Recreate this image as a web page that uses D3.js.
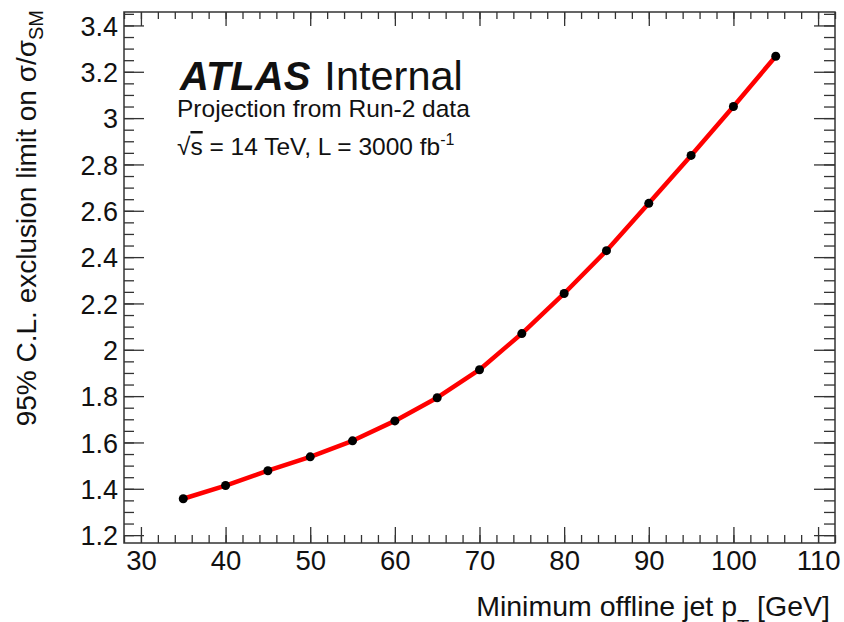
<!DOCTYPE html>
<html>
<head>
<meta charset="utf-8">
<script src="https://cdn.jsdelivr.net/npm/d3@7"></script>
<style>
  html, body { margin: 0; padding: 0; background: #fff; }
  svg text { font-family: "Liberation Sans", Arial, Helvetica, sans-serif; fill: #111; }
</style>
</head>
<body>
<svg id="chart" width="844" height="622"></svg>
<script>
// Minimum offline jet pT thresholds [GeV]
const ptCut = [35, 40, 45, 50, 55, 60, 65, 70, 75, 80, 85, 90, 95, 100, 105];
// Expected 95% C.L. exclusion limit on sigma/sigma_SM
const limit = [1.357, 1.414, 1.478, 1.538, 1.607, 1.693, 1.793, 1.914, 2.070, 2.243, 2.428, 2.632, 2.839, 3.050, 3.267];

const xMajorTicks = [30, 40, 50, 60, 70, 80, 90, 100, 110];
const yMajorTicks = [1.2, 1.4, 1.6, 1.8, 2.0, 2.2, 2.4, 2.6, 2.8, 3.0, 3.2, 3.4];

const frame = { left: 124, right: 835, top: 12, bottom: 543 };

// ROOT-style 10% margins around the data range
const xMin = d3.min(ptCut), xMax = d3.max(ptCut);
const yMin = d3.min(limit), yMax = d3.max(limit);
const xPad = 0.1 * (xMax - xMin), yPad = 0.1 * (yMax - yMin);

const x = d3.scaleLinear().domain([xMin - xPad, xMax + xPad]).range([frame.left, frame.right]);
const y = d3.scaleLinear().domain([yMin - yPad, yMax + yPad]).range([frame.bottom, frame.top]);

const xMinorTicks = d3.range(Math.ceil(x.domain()[0] / 2) * 2, x.domain()[1] + 1e-9, 2);
const yMinorTicks = d3.range(Math.ceil(y.domain()[0] / 0.05) * 0.05, y.domain()[1] + 1e-9, 0.05)
  .map(v => +v.toFixed(3));

const svg = d3.select("#chart");
const W = frame.right - frame.left, H = frame.bottom - frame.top;
const axisColor = "#333";

function styleAxis(g) {
  g.select(".domain").remove();
  g.selectAll(".tick line").attr("stroke", axisColor).attr("stroke-width", 1.3);
}

// Bottom axis: labels + inward ticks
svg.append("g").attr("transform", `translate(0,${frame.bottom})`)
  .call(d3.axisBottom(x).tickValues(xMinorTicks).tickSize(-8).tickFormat(""))
  .call(styleAxis);
svg.append("g").attr("transform", `translate(0,${frame.bottom})`)
  .call(d3.axisBottom(x).tickValues(xMajorTicks).tickSize(-16).tickFormat(d3.format("d")))
  .call(styleAxis)
  .call(g => g.selectAll(".tick text").attr("y", 7).attr("dy", "0")
    .attr("font-size", 27.5).attr("text-anchor", "middle").attr("dominant-baseline", "hanging"));

// Top axis: ticks only
svg.append("g").attr("transform", `translate(0,${frame.top})`)
  .call(d3.axisTop(x).tickValues(xMinorTicks).tickSize(-7).tickFormat(""))
  .call(styleAxis);
svg.append("g").attr("transform", `translate(0,${frame.top})`)
  .call(d3.axisTop(x).tickValues(xMajorTicks).tickSize(-14).tickFormat(""))
  .call(styleAxis);

// Left axis: labels + inward ticks
svg.append("g").attr("transform", `translate(${frame.left},0)`)
  .call(d3.axisLeft(y).tickValues(yMinorTicks).tickSize(-10).tickFormat(""))
  .call(styleAxis);
svg.append("g").attr("transform", `translate(${frame.left},0)`)
  .call(d3.axisLeft(y).tickValues(yMajorTicks).tickSize(-20).tickFormat(d3.format("~g")))
  .call(styleAxis)
  .call(g => g.selectAll(".tick text").attr("x", -6).attr("dy", "0.36em")
    .attr("font-size", 27).attr("text-anchor", "end"));

// Right axis: ticks only
svg.append("g").attr("transform", `translate(${frame.right},0)`)
  .call(d3.axisRight(y).tickValues(yMinorTicks).tickSize(-11).tickFormat(""))
  .call(styleAxis);
svg.append("g").attr("transform", `translate(${frame.right},0)`)
  .call(d3.axisRight(y).tickValues(yMajorTicks).tickSize(-21).tickFormat(""))
  .call(styleAxis);

// Frame
svg.append("rect")
  .attr("x", frame.left).attr("y", frame.top).attr("width", W).attr("height", H)
  .attr("fill", "none").attr("stroke", axisColor).attr("stroke-width", 1.5);

// Limit curve
const pts = ptCut.map((p, i) => [p, limit[i]]);
svg.append("path")
  .datum(pts)
  .attr("fill", "none")
  .attr("stroke", "#ff0000")
  .attr("stroke-width", 4.5)
  .attr("stroke-linejoin", "round")
  .attr("d", d3.line().x(d => x(d[0])).y(d => y(d[1])));

svg.append("g").selectAll("circle")
  .data(pts).join("circle")
  .attr("cx", d => x(d[0])).attr("cy", d => y(d[1]))
  .attr("r", 4.5).attr("fill", "#000");

// Axis titles (the pT subscript sits low, at the canvas edge)
svg.append("text")
  .attr("x", 830).attr("y", 616).attr("text-anchor", "end").attr("font-size", 28.5)
  .call(t => {
    t.append("tspan").text("Minimum offline jet p");
    t.append("tspan").attr("font-size", 20).attr("dy", 18).text("T");
    t.append("tspan").attr("dy", -18).text(" [GeV]");
  });

svg.append("text")
  .attr("transform", "translate(36,10) rotate(-90)")
  .attr("text-anchor", "end").attr("font-size", 28)
  .call(t => {
    t.append("tspan").text("95% C.L. exclusion limit on σ/σ");
    t.append("tspan").attr("font-size", 20).attr("dy", 7).text("SM");
  });

// ATLAS label
svg.append("text").attr("x", 180).attr("y", 90).attr("font-size", 40)
  .call(t => {
    t.append("tspan").attr("font-weight", "bold").attr("font-style", "italic").text("ATLAS");
    t.append("tspan").attr("dx", 14).attr("font-size", 41.5).text("Internal");
  });
svg.append("text").attr("x", 177).attr("y", 117).attr("font-size", 24.5)
  .text("Projection from Run-2 data");
svg.append("text").attr("x", 177).attr("y", 155).attr("font-size", 24.5)
  .call(t => {
    t.append("tspan").text("√");
    t.append("tspan").style("text-decoration", "overline").text("s");
    t.append("tspan").text(" = 14 TeV, L = 3000 fb");
    t.append("tspan").attr("font-size", 16).attr("dy", -10).text("-1");
  });
</script>
</body>
</html>
